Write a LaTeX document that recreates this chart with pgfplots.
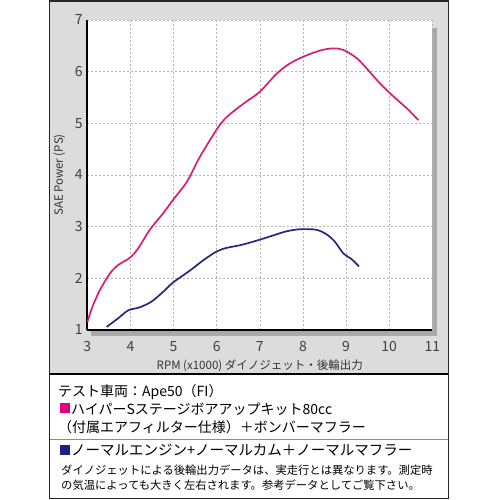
\documentclass[border=0pt]{standalone}
\usepackage{pgfplots}
\pgfplotsset{compat=1.18}
\usepackage{fontspec}
\setmainfont{Noto Sans CJK JP}

\definecolor{bandgray}{HTML}{DCDCDC}
\definecolor{shadowgray}{HTML}{A9A9A9}
\definecolor{gridgray}{HTML}{B4B4B4}
\definecolor{bigpink}{HTML}{D81E78}
\definecolor{stdblue}{HTML}{222A7C}
\definecolor{legpink}{HTML}{E4007F}
\definecolor{legblue}{HTML}{1D2088}

\newcommand\fs[1]{\fontsize{#1pt}{#1pt}\selectfont}

\begin{document}
\begin{tikzpicture}
% page and frame
\path[use as bounding box] (0pt,0pt) rectangle (500pt,500pt);
\fill[white] (0pt,0pt) rectangle (500pt,500pt);
\fill[bandgray] (49.5pt,126pt) rectangle (448.5pt,499pt);
\draw[black, line width=1.6pt] (49.5pt,126pt) -- (448.5pt,126pt);
\draw[black!45, line width=1.4pt] (49.5pt,60.5pt) -- (448.5pt,60.5pt);
\draw[black!85, line width=1.6pt] (49.5pt,1.5pt) rectangle (448.5pt,499pt);
% drop shadow of the plot area
\fill[shadowgray] (432pt,164pt) rectangle (437pt,472pt);
\fill[shadowgray] (91pt,164pt) rectangle (437pt,170pt);

\begin{axis}[
    at={(87.3pt,170pt)}, anchor=south west,
    scale only axis, width=345pt, height=310pt,
    xmin=3, xmax=11, ymin=1, ymax=7,
    xtick={3,4,...,11}, ytick={1,2,...,7},
    axis background/.style={fill=white},
    axis x line*=bottom, axis y line*=left,
    axis line style={black, line width=2pt},
    major tick length=0pt,
    grid=major,
    major grid style={gridgray, line width=0.6pt, dash pattern=on 2pt off 2pt},
    /pgf/number format/assume math mode=true,
    ticklabel style={font=\fs{14}, text=black!75},
    xticklabel style={yshift=-8pt},
    yticklabel style={xshift=-1pt},
    xlabel={RPM (x1000) ダイノジェット・後輪出力},
    xlabel style={font=\fs{11.5}, text=black!80, yshift=-1pt},
    ylabel={SAE Power (PS)},
    ylabel style={font=\fs{11.5}, text=black!80, yshift=3pt},
    clip=false,
]
% ハイパーSステージボアアップキット80cc + ボンバーマフラー
\addplot[bigpink, line width=1.7pt, smooth, tension=0.5] coordinates {
    (3.00,1.15) (3.12,1.45) (3.29,1.77) (3.53,2.10) (3.72,2.26) (3.99,2.40)
    (4.18,2.58) (4.45,2.94) (4.76,3.26) (4.99,3.52) (5.31,3.87) (5.61,4.35)
    (6.00,4.88) (6.23,5.12) (6.62,5.38) (7.00,5.61) (7.39,5.96) (7.70,6.16)
    (8.01,6.29) (8.40,6.41) (8.70,6.45) (8.94,6.42) (9.25,6.26) (9.48,6.06)
    (9.79,5.77) (10.10,5.52) (10.41,5.29) (10.68,5.06)
};
% ノーマルエンジン + ノーマルカム + ノーマルマフラー
\addplot[stdblue, line width=1.7pt, smooth, tension=0.5] coordinates {
    (3.45,1.06) (3.72,1.23) (3.95,1.38) (4.22,1.44) (4.49,1.55) (4.76,1.74)
    (4.99,1.92) (5.38,2.15) (5.69,2.35) (6.00,2.52) (6.23,2.59) (6.54,2.64)
    (6.93,2.73) (7.31,2.83) (7.62,2.91) (7.93,2.95) (8.31,2.94) (8.55,2.85)
    (8.74,2.71) (8.94,2.48) (9.13,2.37) (9.30,2.23)
};
\end{axis}

% legend / notes
\node[anchor=base west, inner sep=0pt, font=\fs{14}] at (58pt,103pt) {テスト車両：Ape50（FI）};
\fill[legpink] (60pt,87pt) rectangle (70pt,97pt);
\node[anchor=base west, inner sep=0pt, font=\fs{14}] at (71pt,85pt) {ハイパーSステージボアアップキット80cc};
\node[anchor=base west, inner sep=0pt, font=\fs{14}] at (58pt,67pt) {（付属エアフィルター仕様）＋ボンバーマフラー};
\fill[legblue] (60pt,45pt) rectangle (70pt,55pt);
\node[anchor=base west, inner sep=0pt, font=\fs{14.5}] at (71pt,44pt) {ノーマルエンジン+ノーマルカム＋ノーマルマフラー};
\node[anchor=base west, inner sep=0pt, font=\fs{11.3}] at (61pt,25pt) {ダイノジェットによる後輪出力データは、実走行とは異なります。測定時};
\node[anchor=base west, inner sep=0pt, font=\fs{11.3}] at (61pt,10pt) {の気温によっても大きく左右されます。参考データとしてご覧下さい。};
\end{tikzpicture}
\end{document}
